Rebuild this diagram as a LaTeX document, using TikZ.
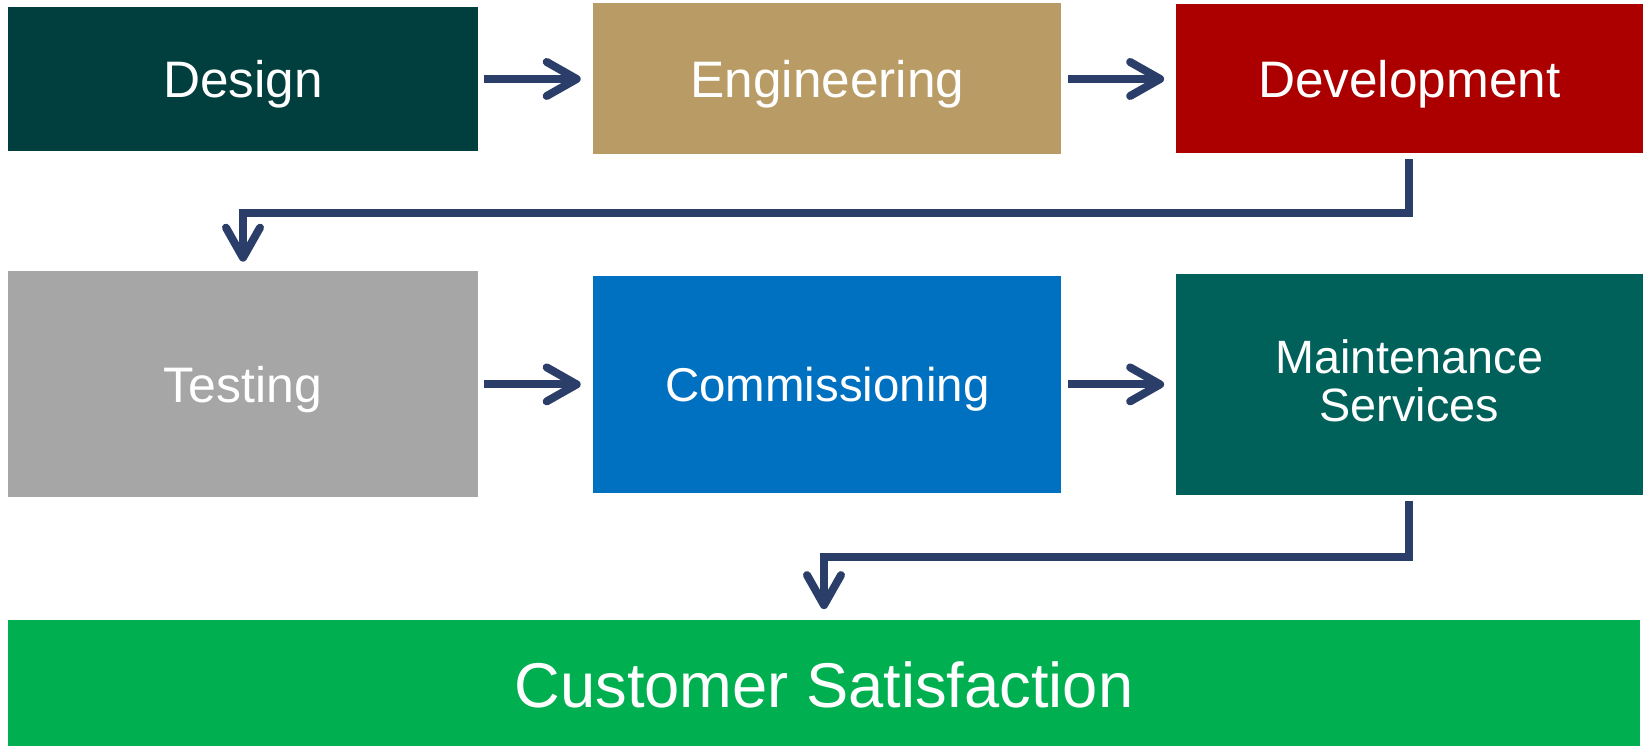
\documentclass[tikz,border=0pt]{standalone}
\usepackage{fontspec}
\setmainfont{Liberation Sans}
\usepackage{tikz}
\usetikzlibrary{positioning}
\usetikzlibrary{arrows.meta}
\definecolor{designteal}{RGB}{0,63,61}
\definecolor{engtan}{RGB}{185,156,101}
\definecolor{devred}{RGB}{172,0,0}
\definecolor{testgray}{RGB}{166,166,166}
\definecolor{commblue}{RGB}{0,112,192}
\definecolor{mainteal}{RGB}{0,97,91}
\definecolor{custgreen}{RGB}{0,176,80}
\definecolor{flowblue}{RGB}{43,62,106}
\tikzstyle{stage} = [rectangle, inner sep=0pt, text=white, text centered,
    text depth=0pt, minimum width=4.68cm, font=\fontsize{14.6}{17}\selectfont]
\tikzstyle{line} = [draw=flowblue, line width=0.08cm,
    -{Straight Barb[length=0.3cm, width=0.34cm, round]}]

\begin{document}
\begin{tikzpicture}[node distance = 1.14cm, auto]
  \useasboundingbox (0,0) rectangle (16.48,-7.46);
  \node [stage, fill=designteal, minimum width=4.70cm, minimum height=1.44cm] (design) at (2.43,-0.79) {Design};
  \node [stage, fill=engtan, minimum height=1.51cm, right=1.14cm of design] (engineering) {Engineering};
  \node [stage, fill=devred, minimum width=4.67cm, minimum height=1.49cm, right=1.13cm of engineering] (development) {Development};
  \node [stage, fill=testgray, minimum width=4.70cm, minimum height=2.26cm, below=1.19cm of design,
    font=\fontsize{14.2}{17}\selectfont] (testing) {Testing};
  \node [stage, fill=commblue, minimum height=2.17cm, right=1.14cm of testing,
    font=\fontsize{13.5}{16}\selectfont] (commissioning) {Commissioning};
  \node [stage, fill=mainteal, minimum width=4.67cm, minimum height=2.21cm, right=1.13cm of commissioning,
    align=center, text depth=0.08cm, font=\fontsize{13.3}{13.7}\selectfont] (maintenance) {Maintenance\\Services};
  \node [stage, fill=custgreen, minimum width=16.32cm, minimum height=1.29cm,
    below=1.21cm of testing.south west, anchor=north west,
    font=\fontsize{18}{21}\selectfont] (satisfaction) {Customer Satisfaction};

    \path [line, shorten <=0.05cm, shorten >=0.12cm] (design) -- (engineering);
    \path [line, shorten <=0.06cm, shorten >=0.11cm] (engineering) -- (development);

    \path [line, shorten <=0.05cm, shorten >=0.09cm]
    (development.south) -- ++(0,-0.585) -| (testing.north);

    \path [line, shorten <=0.05cm, shorten >=0.12cm] (testing) -- (commissioning);
    \path [line, shorten <=0.06cm, shorten >=0.11cm] (commissioning) -- (maintenance);

    \path [line, shorten <=0.05cm, shorten >=0.10cm]
    (maintenance.south) -- ++(0,-0.615) -| (satisfaction.north);

\end{tikzpicture}
\end{document}
